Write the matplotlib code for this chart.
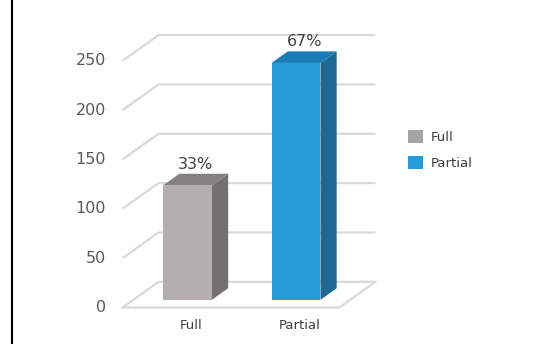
import matplotlib.pyplot as plt
from matplotlib.patches import Polygon, Patch
from matplotlib.lines import Line2D

# Chart data
categories = ["Full", "Partial"]
values = [116, 240]
pct_labels = ["33%", "67%"]
yticks = [0, 50, 100, 150, 200, 250]

front_colors = ["#b3afaf", "#279bd5"]
side_colors = ["#73706f", "#1f6892"]
top_colors = ["#858180", "#1a7ab3"]

# fake 3d: depth offset in data units
DX = 0.332
DY = 26.0
D0, D1 = 0.3, 0.75  # bar front / back depth
W = 0.225  # half bar width


def proj(x, v, d):
    return (x + d * DX, v + d * DY)


fig = plt.figure(figsize=(5.49, 3.44), dpi=100)
ax = fig.add_axes([0, 0, 1, 1])
ax.set_xlim(-1.629, 3.431)
ax.set_ylim(-36.98, 311.55)
ax.axis("off")

grid_col = "#d9d9d9"
x_left, x_right = -0.5, 1.5

# gridlines (left wall diagonal + back line)
for v in yticks:
    p0 = proj(x_left, v, 0)
    p1 = proj(x_left, v, 1)
    p2 = proj(x_right, v, 1)
    ax.plot([p0[0], p1[0], p2[0]], [p0[1], p1[1], p2[1]], color=grid_col, lw=1.6, zorder=1,
            solid_capstyle="butt")
    ax.text(x_left - 0.15, v, str(v), ha="right", va="center", fontsize=11.5, color="#595959")

# floor front edge and right edge
f0 = proj(x_left, 0, 0)
f1 = proj(x_right, 0, 0)
f2 = proj(x_right, 0, 1)
ax.plot([f0[0], f1[0], f2[0]], [f0[1], f1[1], f2[1]], color=grid_col, lw=1.6, zorder=1)

# bars
for i, (cat, v) in enumerate(zip(categories, values)):
    x = i
    front = [proj(x - W, 0, D0), proj(x + W, 0, D0), proj(x + W, v, D0), proj(x - W, v, D0)]
    side = [proj(x + W, 0, D0), proj(x + W, 0, D1), proj(x + W, v, D1), proj(x + W, v, D0)]
    top = [proj(x - W, v, D0), proj(x + W, v, D0), proj(x + W, v, D1), proj(x - W, v, D1)]
    ax.add_patch(Polygon(side, closed=True, facecolor=side_colors[i], edgecolor="none", zorder=2))
    ax.add_patch(Polygon(top, closed=True, facecolor=top_colors[i], edgecolor="none", zorder=2))
    ax.add_patch(Polygon(front, closed=True, facecolor=front_colors[i], edgecolor="none", zorder=3))

    lx, ly = proj(x, v, (D0 + D1) / 2)
    ax.text(lx, v + D1 * DY + 2, pct_labels[i], ha="center", va="bottom", fontsize=11.5,
            color="#404040", zorder=4)
    cx, _ = proj(x, 0, 0.4)
    ax.text(cx, -18, cat, ha="center", va="center", fontsize=9.5, color="#404040")

# legend
handles = [Patch(facecolor=front_colors[i], edgecolor="none", label=categories[i])
           for i in range(len(categories))]
handles[0].set_facecolor("#a6a3a3")
ax.legend(handles=handles, loc="upper left", bbox_to_anchor=(408 / 549, 1 - 130 / 344),
          bbox_transform=fig.transFigure, frameon=False, fontsize=9.5, borderpad=0,
          borderaxespad=0, handlelength=1.15, handleheight=1.15, handletextpad=0.6,
          labelspacing=0.9, labelcolor="#404040")

# black line on the left edge
fig.add_artist(Line2D([12 / 549, 12 / 549], [0, 1], color="black", lw=1.5,
                      transform=fig.transFigure))

fig.savefig("out.png", dpi=100)
